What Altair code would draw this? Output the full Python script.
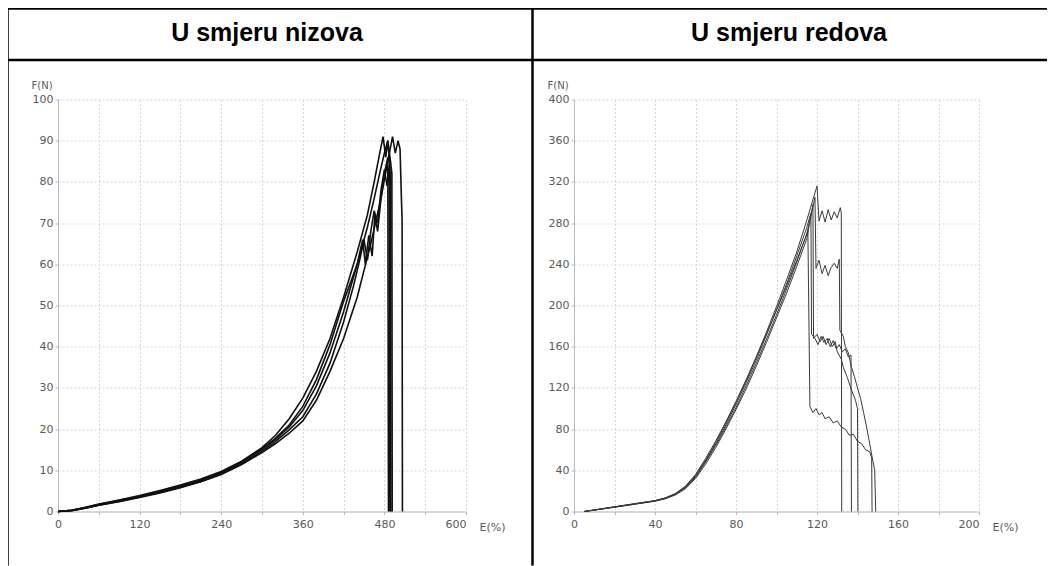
import altair as alt
import pandas as pd

TITLES = ["U smjeru nizova", "U smjeru redova"]
X_TITLE = "E(%)"
Y_TITLE = "F(N)"

# ---- Left panel (U smjeru nizova): E(%) vs F(N) ----
L1_E = [0, 20, 40, 60, 90, 120, 150, 180, 210, 240, 270, 300, 320, 340, 360, 380, 400, 420, 440, 455, 465, 472, 478, 482, 485, 488, 489, 489.5]
L1_F = [0, 0.3, 1, 1.8, 2.8, 3.9, 5.1, 6.4, 7.9, 9.7, 12.2, 15.5, 18.5, 22.5, 27.5, 34, 42, 52, 63, 72, 80, 86, 91, 86, 90, 84, 80, 0]
L2_E = [0, 20, 40, 60, 90, 120, 150, 180, 210, 240, 270, 300, 320, 340, 360, 380, 400, 420, 440, 455, 465, 473, 480, 485, 489, 491, 491.5]
L2_F = [0, 0.3, 0.9, 1.6, 2.6, 3.6, 4.8, 6.1, 7.6, 9.4, 11.8, 15, 17.5, 20.5, 24.5, 30.5, 38.5, 48.5, 60, 69, 76, 82, 87, 90, 85, 82, 0]
L3_E = [0, 20, 40, 60, 90, 120, 150, 180, 210, 240, 270, 300, 320, 340, 360, 380, 400, 420, 435, 445, 450, 455, 460, 465, 470, 475, 480, 484, 487, 488]
L3_F = [0, 0.2, 0.8, 1.5, 2.5, 3.5, 4.6, 5.9, 7.3, 9.1, 11.5, 14.6, 17, 19.8, 23, 28.5, 36, 46, 55, 62, 66, 61, 68, 73, 70, 78, 83, 79, 84, 0]
L4_E = [0, 20, 40, 60, 90, 120, 150, 180, 210, 240, 270, 300, 320, 340, 360, 380, 400, 420, 440, 448, 452, 457, 462, 466, 470, 475, 480, 485, 486]
L4_F = [0, 0.3, 0.9, 1.7, 2.7, 3.7, 4.9, 6.2, 7.7, 9.5, 12, 15.2, 17.8, 21, 25.5, 32, 40.5, 51, 60, 66, 60, 67, 62, 72, 68, 76, 82, 86, 0]
L5_E = [0, 20, 40, 60, 90, 120, 150, 180, 210, 240, 270, 300, 320, 340, 360, 380, 400, 420, 440, 460, 475, 485, 492, 496, 500, 503, 505, 506, 506.5]
L5_F = [0, 0.2, 0.8, 1.5, 2.4, 3.4, 4.5, 5.8, 7.2, 9, 11.4, 14.3, 16.5, 19, 22, 27, 34, 42, 52, 65, 76, 85, 91, 87, 90, 88, 76, 71, 0]

# ---- Right panel (U smjeru redova) ----
R1_E = [5, 10, 20, 30, 40, 45, 50, 55, 60, 65, 70, 75, 80, 85, 90, 95, 100, 105, 110, 115, 120, 121, 122.5, 124, 125.5, 127, 128.5, 130, 131.5, 132, 132.2]
R1_F = [0, 1.5, 4.5, 7.5, 10.5, 13, 17, 24, 35, 50, 67, 86, 106, 127, 150, 174, 199, 225, 252, 283, 316, 282, 292, 281, 293, 283, 291, 285, 295, 290, 0]
R2_E = [5, 10, 20, 30, 40, 45, 50, 55, 60, 65, 70, 75, 80, 85, 90, 95, 100, 105, 110, 115, 119, 119.5, 121, 122.5, 124, 125.5, 127, 128.5, 130, 131, 131.3, 133, 134, 135.5, 137, 138.5, 140, 141.5, 143, 144.5, 146, 147.5, 148.5, 149]
R2_F = [0, 1.4, 4.3, 7.2, 10.2, 12.6, 16.5, 23, 33, 48, 64, 82, 101, 122, 144, 167, 191, 216, 242, 270, 305, 236, 244, 231, 239, 229, 237, 241, 236, 245, 176, 170, 160, 154, 140, 131, 120, 110, 96, 82, 66, 50, 40, 0]
R3_E = [5, 10, 20, 30, 40, 45, 50, 55, 60, 65, 70, 75, 80, 85, 90, 95, 100, 105, 110, 115, 118, 118.3, 120, 121.5, 123, 124.5, 126, 127.5, 129, 130, 132, 133, 135, 137, 139, 140, 140.2]
R3_F = [0, 1.3, 4.1, 7, 10, 12.3, 16, 22, 32, 46, 62, 80, 99, 119, 141, 164, 188, 212, 238, 265, 298, 168, 172, 165, 170, 162, 168, 160, 165, 155, 148, 140, 130, 118, 108, 100, 0]
R4_E = [5, 10, 20, 30, 40, 45, 50, 55, 60, 65, 70, 75, 80, 85, 90, 95, 100, 105, 110, 115.5, 116.5, 118, 119.5, 121, 122.5, 124, 126, 128, 130, 132, 134, 136, 138, 140, 142, 144, 146, 147, 147.2]
R4_F = [0, 1.5, 4.6, 7.6, 10.6, 13.2, 17.4, 24.5, 36, 51.5, 68.5, 87, 107, 128, 150, 172, 195, 219, 244, 272, 102, 96, 100, 94, 96, 90, 92, 86, 88, 82, 80, 74, 75, 68, 66, 60, 58, 52, 0]
R5_E = [5, 10, 20, 30, 40, 45, 50, 55, 60, 65, 70, 75, 80, 85, 90, 95, 100, 105, 110, 115, 117, 117.3, 119, 120.5, 122, 123.5, 125, 126.5, 128, 129.5, 131, 132.5, 134, 135.5, 136.8, 137]
R5_F = [0, 1.4, 4.4, 7.4, 10.4, 12.8, 16.8, 23.5, 34, 49, 65.5, 84, 104, 125, 147, 171, 196, 221, 248, 276, 290, 172, 168, 162, 170, 164, 168, 160, 166, 158, 162, 155, 158, 150, 152, 0]

LEFT_CURVES = [(L1_E, L1_F), (L2_E, L2_F), (L3_E, L3_F), (L4_E, L4_F), (L5_E, L5_F)]
RIGHT_CURVES = [(R1_E, R1_F), (R2_E, R2_F), (R3_E, R3_F), (R4_E, R4_F), (R5_E, R5_F)]


def to_long(curves):
    rows = []
    for ci, (es, fs) in enumerate(curves):
        for k, (e, f) in enumerate(zip(es, fs)):
            rows.append({"curve": f"c{ci + 1}", "E": e, "F": f, "k": k})
    return pd.DataFrame(rows)


LABEL_FONT = "DejaVu Sans"
LABEL_COLOR = "#5a5a5a"
GRID_COLOR = "#d6d6d6"
AXIS_COLOR = "#b8b8b8"


def panel(curves, xmax, xgrid, xlab, ymax, ystep, w, h, color, sw):
    df = to_long(curves)
    xvals = list(range(0, xmax + 1, xgrid))
    yvals = list(range(0, ymax + 1, ystep))
    x = alt.X(
        "E:Q",
        scale=alt.Scale(domain=[0, xmax], nice=False),
        axis=alt.Axis(
            values=xvals,
            labelExpr=f"datum.value % {xlab} == 0 ? datum.label : ''",
            labelAlign={"condition": {"test": f"datum.value == {xmax}", "value": "right"}, "value": "center"},
            grid=True, gridDash=[2, 2], gridColor=GRID_COLOR,
            domainColor=AXIS_COLOR, tickColor=AXIS_COLOR, tickSize=3,
            labelColor=LABEL_COLOR, labelFont=LABEL_FONT, labelFontSize=11, labelPadding=4,
            title=X_TITLE, titleAngle=0, titleX=w + 13, titleY=16, titleAlign="left",
            titleBaseline="middle", titleFont=LABEL_FONT, titleFontSize=11,
            titleFontWeight="normal", titleColor=LABEL_COLOR,
        ),
    )
    y = alt.Y(
        "F:Q",
        scale=alt.Scale(domain=[0, ymax], nice=False),
        axis=alt.Axis(
            values=yvals,
            grid=True, gridDash=[2, 2], gridColor=GRID_COLOR,
            domainColor=AXIS_COLOR, tickColor=AXIS_COLOR, tickSize=3,
            labelColor=LABEL_COLOR, labelFont=LABEL_FONT, labelFontSize=11, labelPadding=2,
            title=Y_TITLE, titleAngle=0, titleX=-27, titleY=-14, titleAlign="left",
            titleBaseline="middle", titleFont=LABEL_FONT, titleFontSize=10,
            titleFontWeight="normal", titleColor=LABEL_COLOR,
        ),
    )
    lines = alt.Chart(df).mark_line(color=color, strokeWidth=sw, strokeJoin="miter").encode(
        x=x, y=y, detail="curve:N", order="k:Q"
    )
    return lines, w, h


one = pd.DataFrame({"k": [0]})


def hrule(x1, x2, yy, sw=2.5):
    return alt.Chart(one).mark_rule(color="black", strokeWidth=sw).encode(
        x=alt.value(x1), x2=alt.value(x2), y=alt.value(yy)
    )


def vrule(xx, y1, y2, sw=2.5):
    return alt.Chart(one).mark_rule(color="black", strokeWidth=sw).encode(
        x=alt.value(xx), y=alt.value(y1), y2=alt.value(y2)
    )


def header(text, xx, yy):
    return alt.Chart(pd.DataFrame({"t": [text]})).mark_text(
        font="Liberation Sans", fontSize=25, fontWeight="bold", color="black",
        align="center", baseline="middle"
    ).encode(text="t:N", x=alt.value(xx), y=alt.value(yy))


left_lines, lw, lh = panel(LEFT_CURVES, 600, 60, 120, 100, 10, 408, 412, "#111111", 1.6)
right_lines, rw, rh = panel(RIGHT_CURVES, 200, 20, 40, 400, 40, 405, 412, "#3a3a3a", 1.0)

table = [
    hrule(-50.5, 989, -91),
    hrule(-50.5, 989, -39.5),
    vrule(-50.5, -91, 466),
    vrule(474.5, -91, 466),
    header(TITLES[0], 209, -67),
    header(TITLES[1], 731, -67),
]

left = alt.layer(*table, left_lines).properties(width=lw, height=lh)
right = alt.layer(right_lines).properties(width=rw, height=rh)

chart = alt.hconcat(left, right, spacing=108, bounds="flush").properties(
    padding={"left": -2, "top": -1.5, "right": 0, "bottom": 0}, background="white"
).configure_view(stroke=None)

chart.save("out.html", embed_options={"renderer": "svg", "actions": False})
